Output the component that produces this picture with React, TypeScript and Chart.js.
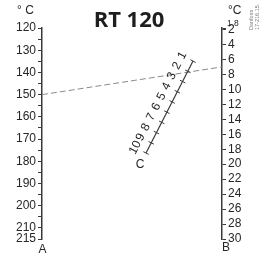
import React, { useEffect, useRef } from 'react';
import { Chart, registerables } from 'chart.js';

Chart.register(...registerables);

// ---- data ----
const aRange = [120, 215];
const aTicks = [120, 125, 130, 135, 140, 145, 150, 155, 160, 165, 170, 175, 180, 185, 190, 195, 200, 205, 210, 215];
const aLabels = ['120', '', '130', '', '140', '', '150', '', '160', '', '170', '', '180', '', '190', '', '200', '', '210', '215'];

const bRange = [1.8, 30];
const bTicks = [1.8, 2, 4, 6, 8, 10, 12, 14, 16, 18, 20, 22, 24, 26, 28, 30];
const bLabels = ['', '2', '4', '6', '8', '10', '12', '14', '16', '18', '20', '22', '24', '26', '28', '30'];

const cValues = [1, 2, 3, 4, 5, 6, 7, 8, 9, 10];
const cLabels = ['1', '2', '3', '4', '5', '6', '7', '8', '9', '10'];
// C scale ends: position between A (0) and B (1), height read on A scale; for C = 1 and C = 10
const cLineX = [0.839, 0.578];
const cLineA = [134.9, 176.3];

// example reading
const readingA = 150;
const readingB = 7;

const title = 'RT 120';
const unitLabel = '° C';
const docCode = ['Danfoss', '17-216.15.'];

const FONT = "'Liberation Sans', Arial, sans-serif";
const INK = '#262626';
const AXIS = '#3a3a3a';

const aFromB = (b: number) => aRange[0] + ((b - bRange[0]) / (bRange[1] - bRange[0])) * (aRange[1] - aRange[0]);

const overlay = {
  id: 'overlay',
  afterDatasetsDraw(chart: any) {
    const { ctx, scales, chartArea } = chart;
    const xs = scales.x;
    const as = scales.A;
    const bs = scales.B;
    ctx.save();

    // C scale ticks and labels
    const p1 = { x: xs.getPixelForValue(cLineX[0]), y: as.getPixelForValue(cLineA[0]) };
    const p10 = { x: xs.getPixelForValue(cLineX[1]), y: as.getPixelForValue(cLineA[1]) };
    const dx = p1.x - p10.x;
    const dy = p1.y - p10.y;
    const len = Math.hypot(dx, dy);
    const ux = dx / len;
    const uy = dy / len;
    const nx = uy;
    const ny = -ux;
    const angle = Math.atan2(dy, dx);
    ctx.strokeStyle = AXIS;
    ctx.lineWidth = 1;
    ctx.fillStyle = INK;
    ctx.font = `12px ${FONT}`;
    ctx.textAlign = 'center';
    ctx.textBaseline = 'middle';
    const c0 = cValues[0];
    const cN = cValues[cValues.length - 1];
    cValues.forEach((v, i) => {
      const t = (v - c0) / (cN - c0);
      const px = p1.x + (p10.x - p1.x) * t;
      const py = p1.y + (p10.y - p1.y) * t;
      ctx.beginPath();
      ctx.moveTo(px + nx * 3, py + ny * 3);
      ctx.lineTo(px - nx * 3, py - ny * 3);
      ctx.stroke();
      ctx.save();
      ctx.translate(px + nx * 12, py + ny * 12);
      ctx.rotate(angle);
      ctx.fillText(cLabels[i], 0, 0);
      ctx.restore();
    });
    ctx.fillText('C', p10.x - ux * 13, p10.y - uy * 13);

    // axis names
    ctx.fillText('A', chartArea.left + 0.5, chartArea.bottom + 11);
    ctx.textAlign = 'left';
    ctx.fillText('B', chartArea.right, chartArea.bottom + 9);

    // units
    ctx.textBaseline = 'alphabetic';
    ctx.fillText(unitLabel, 17, 13.5);
    ctx.fillText('°C', 228, 13.5);

    // small 1.8 label
    ctx.font = `8.5px ${FONT}`;
    ctx.textBaseline = 'middle';
    ctx.fillText('1.8', chartArea.right + 5, bs.getPixelForValue(bTicks[0]) - 4);

    // title
    ctx.font = `bold 22px 'Open Sans', ${FONT}`;
    ctx.textAlign = 'center';
    ctx.textBaseline = 'alphabetic';
    ctx.fillStyle = '#1e1e1e';
    ctx.fillText(title, 129, 27);

    // document code (vertical)
    ctx.font = `5.5px ${FONT}`;
    ctx.fillStyle = '#7a7a7a';
    ctx.textAlign = 'left';
    [253, 259].forEach((x, i) => {
      ctx.save();
      ctx.translate(x, 30);
      ctx.rotate(-Math.PI / 2);
      ctx.fillText(docCode[i], 0, 0);
      ctx.restore();
    });

    ctx.restore();
  },
};

export default function App() {
  const ref = useRef<HTMLCanvasElement>(null);
  useEffect(() => {
    if (!ref.current) return;
    const chart = new Chart(ref.current, {
      type: 'line',
      data: {
        datasets: [
          {
            data: [
              { x: cLineX[0], y: cLineA[0] },
              { x: cLineX[1], y: cLineA[1] },
            ],
            yAxisID: 'A',
            xAxisID: 'x',
            borderColor: AXIS,
            borderWidth: 1.2,
            pointRadius: 0,
            clip: false,
          } as any,
          {
            data: [
              { x: 0, y: readingA },
              { x: 1, y: aFromB(readingB) },
            ],
            yAxisID: 'A',
            xAxisID: 'x',
            borderColor: '#8a8a8a',
            borderWidth: 1,
            borderDash: [6, 3],
            pointRadius: 0,
            clip: false,
          } as any,
        ],
      },
      options: {
        responsive: false,
        animation: false,
        events: [],
        layout: { padding: { top: 28, bottom: 19, left: 0, right: 0 } },
        plugins: { legend: { display: false }, tooltip: { enabled: false }, title: { display: false } },
        scales: {
          x: { type: 'linear', min: 0, max: 1, display: false },
          A: {
            type: 'linear',
            position: 'left',
            reverse: true,
            min: aRange[0],
            max: aRange[1],
            afterBuildTicks: (s: any) => {
              s.ticks = aTicks.map((v) => ({ value: v }));
            },
            afterFit: (s: any) => {
              s.width = 42;
            },
            ticks: {
              autoSkip: false,
              maxRotation: 0,
              padding: 2,
              color: INK,
              font: { family: FONT, size: 12 },
              callback: (_v: any, i: number) => aLabels[i],
            },
            grid: { drawOnChartArea: false, drawTicks: true, tickLength: 4, color: AXIS, lineWidth: 1 },
            border: { display: true, color: AXIS, width: 1.5 },
          },
          B: {
            type: 'linear',
            position: 'right',
            reverse: true,
            min: bRange[0],
            max: bRange[1],
            afterBuildTicks: (s: any) => {
              s.ticks = bTicks.map((v) => ({ value: v }));
            },
            afterFit: (s: any) => {
              s.width = 45;
            },
            ticks: {
              autoSkip: false,
              maxRotation: 0,
              padding: 2,
              color: INK,
              font: { family: FONT, size: 12 },
              callback: (_v: any, i: number) => bLabels[i],
            },
            grid: { drawOnChartArea: false, drawTicks: true, tickLength: 4, color: AXIS, lineWidth: 1 },
            border: { display: true, color: AXIS, width: 1.5 },
          },
        },
      } as any,
      plugins: [overlay],
    });
    return () => chart.destroy();
  }, []);
  return (
    <div style={{ position: 'absolute', left: 0, top: 0, width: 267, height: 258, background: '#fff' }}>
      <canvas ref={ref} width={267} height={258} style={{ display: 'block', width: 267, height: 258 }} />
    </div>
  );
}
